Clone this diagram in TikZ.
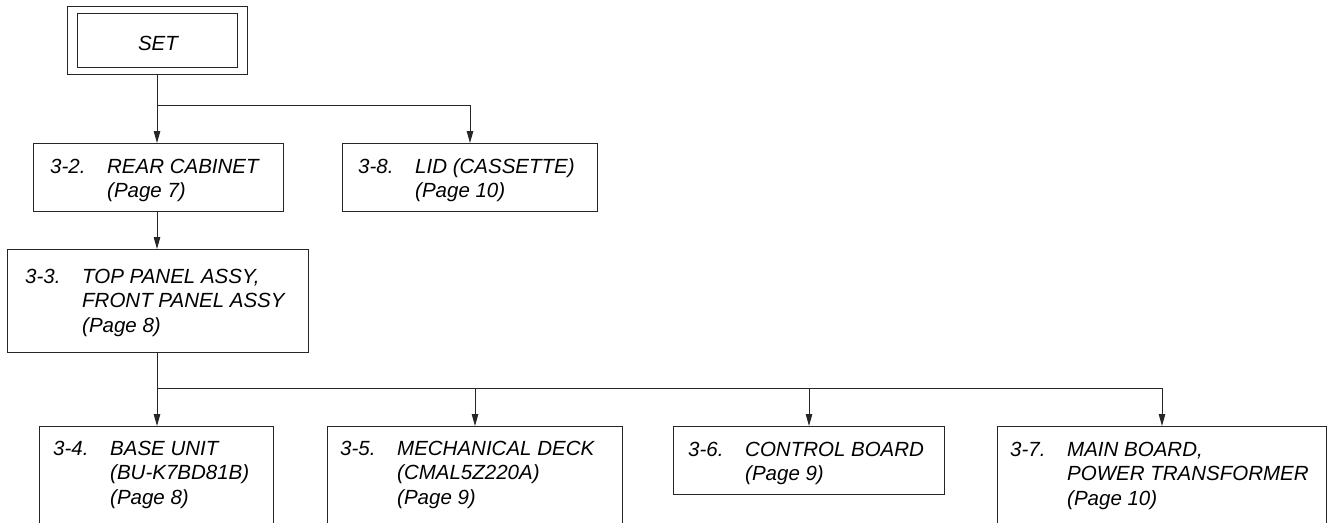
\documentclass[tikz,border=0pt]{standalone}
\usepackage{fontspec}
\setmainfont{Liberation Sans}
\usetikzlibrary{arrows.meta}
\newcommand\entrytext[1]{\begin{tabular}[t]{@{}p{57pt}@{}l@{}}#1\end{tabular}}
\begin{document}
\begin{tikzpicture}[x=1pt,y=1pt,
  box/.style={draw=black!85, line width=1pt, inner sep=0pt, fill=none},
  lbl/.style={anchor=base west, inner sep=0pt, font=\fontsize{20.5}{24.5}\selectfont\itshape},
  conn/.style={draw=black!85, line width=1pt},
  arr/.style={conn, -{Triangle[length=12pt,width=6.5pt]}}]
\useasboundingbox (0,0) rectangle (1335,-522);
\begin{scope}
\clip (0,0) rectangle (1335,-522);
% SET
\node[box, minimum width=180pt, minimum height=68pt] (set) at (157,-40) {};
\node[box, minimum width=160pt, minimum height=54pt] (setin) at (157,-40) {};
\node[lbl, anchor=base] (settxt) at (158,-50) {SET};
% row 1
\node[box, anchor=north west, minimum width=250pt, minimum height=68pt] (b32) at (33,-143) {};
\node[lbl] (t32) at (50,-173) {\entrytext{3-2.&REAR CABINET\\&(Page 7)}};
\node[box, anchor=north west, minimum width=255pt, minimum height=68pt] (b38) at (342,-143) {};
\node[lbl] (t38) at (358,-173) {\entrytext{3-8.&LID (CASSETTE)\\&(Page 10)}};
% row 2
\node[box, anchor=north west, minimum width=301pt, minimum height=103pt] (b33) at (7,-249) {};
\node[lbl] (t33) at (25,-283) {\entrytext{3-3.&TOP PANEL ASSY,\\&FRONT PANEL ASSY\\&(Page 8)}};
% row 3
\node[box, anchor=north west, minimum width=234pt, minimum height=130pt] (b34) at (39,-426) {};
\node[lbl] (t34) at (53,-455) {\entrytext{3-4.&BASE UNIT\\&(BU-K7BD81B)\\&(Page 8)}};
\node[box, anchor=north west, minimum width=295pt, minimum height=130pt] (b35) at (327,-426) {};
\node[lbl] (t35) at (340,-455) {\entrytext{3-5.&MECHANICAL DECK\\&(CMAL5Z220A)\\&(Page 9)}};
\node[box, anchor=north west, minimum width=271pt, minimum height=68pt] (b36) at (673,-426) {};
\node[lbl] (t36) at (688,-456) {\entrytext{3-6.&CONTROL BOARD\\&(Page 9)}};
\node[box, anchor=north west, minimum width=329pt, minimum height=130pt] (b37) at (997,-426) {};
\node[lbl] (t37) at (1010,-456) {\entrytext{3-7.&MAIN BOARD,\\&POWER TRANSFORMER\\&(Page 10)}};
% connectors
\coordinate (j1) at (157,-105);
\coordinate (j2) at (157,-388);
\draw[arr] (set.south) -- (set.south |- b32.north);
\draw[arr] (j1) -| (b38.north);
\draw[arr] (b32.south -| set.south) -- (set.south |- b33.north);
\draw[arr] (b33.south -| set.south) -- (set.south |- b34.north);
\draw[arr] (j2) -| (b35.north);
\draw[arr] (j2) -| (b36.north);
\draw[arr] (j2) -| (b37.north);
\end{scope}
\end{tikzpicture}
\end{document}
